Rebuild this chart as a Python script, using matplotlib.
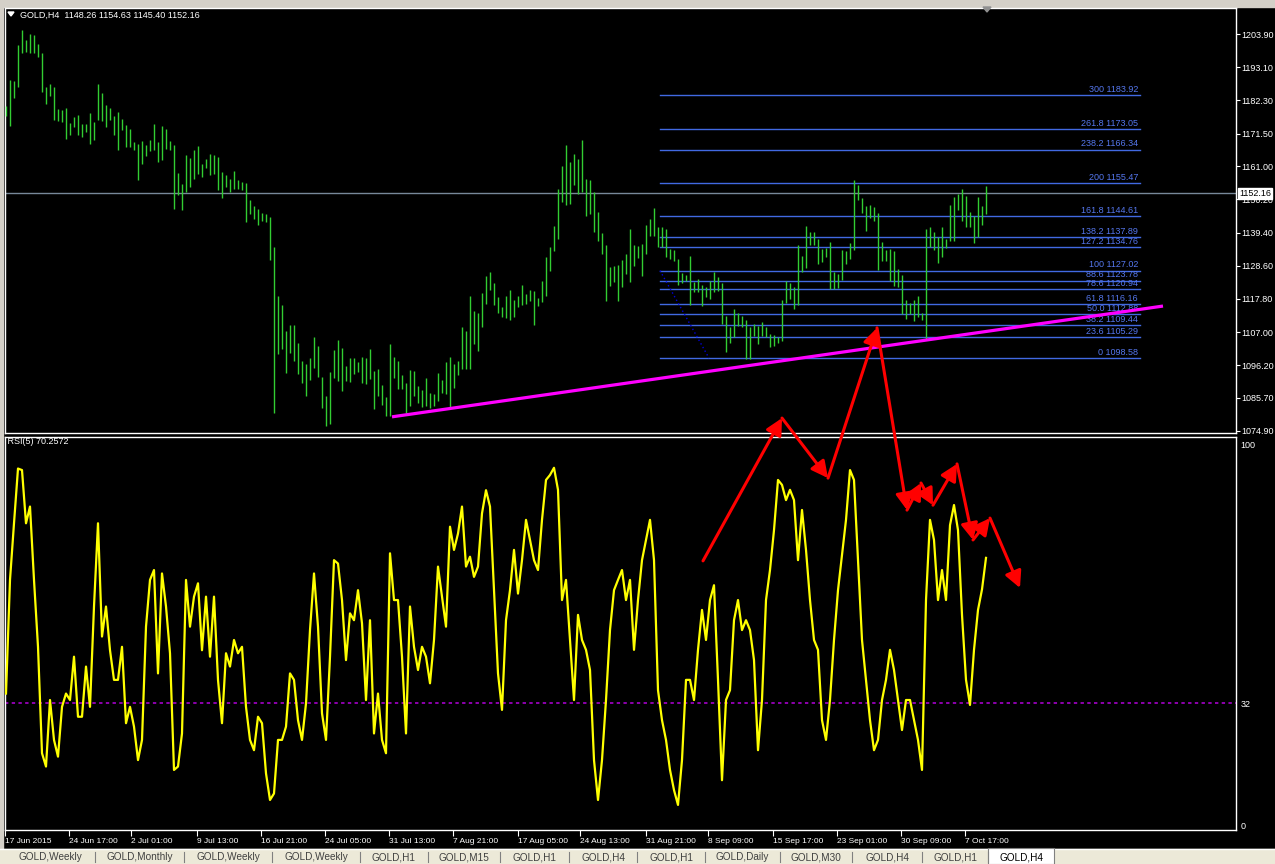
import matplotlib
matplotlib.use("Agg")
import matplotlib.pyplot as plt
from matplotlib.patches import Rectangle, Polygon, FancyArrowPatch
import numpy as np

# ---- data (one bar per 8h, index = bar number) ----
highs = [
    1180.4, 1188.9, 1188.6, 1200.3, 1205.2, 1202.0, 1203.9, 1203.6, 1200.7, 1197.6,
    1186.7, 1187.6, 1186.7, 1179.6, 1179.1, 1179.7, 1175.0, 1177.0, 1177.5, 1174.8,
    1174.8, 1178.1, 1175.2, 1187.6, 1184.8, 1180.7, 1179.7, 1177.3, 1178.6, 1176.4,
    1174.2, 1172.9, 1168.8, 1168.3, 1169.1, 1167.7, 1169.6, 1174.6, 1168.8, 1173.9,
    1172.9, 1169.2, 1167.7, 1158.8, 1155.1, 1164.5, 1163.7, 1166.1, 1167.4, 1161.8,
    1163.4, 1165.0, 1164.5, 1164.0, 1159.1, 1158.0, 1156.9, 1159.3, 1156.4, 1155.8,
    1155.5, 1149.9, 1147.9, 1147.1, 1145.7, 1145.3, 1144.4, 1134.7, 1118.9, 1116.0,
    1107.5, 1109.4, 1109.4, 1103.4, 1097.5, 1096.6, 1098.5, 1105.5, 1102.6, 1092.5,
    1086.3, 1094.2, 1101.2, 1104.5, 1102.0, 1096.1, 1098.5, 1098.6, 1097.4, 1099.0,
    1098.6, 1101.5, 1094.4, 1095.0, 1089.9, 1086.0, 1103.1, 1098.8, 1097.7, 1093.1,
    1090.4, 1094.7, 1094.4, 1089.5, 1088.1, 1092.0, 1087.4, 1087.0, 1093.7, 1091.4,
    1097.4, 1099.0, 1096.6, 1097.7, 1108.8, 1107.5, 1118.9, 1114.0, 1113.1, 1119.6,
    1125.4, 1126.5, 1123.0, 1118.3, 1115.3, 1118.9, 1120.7, 1117.5, 1118.7, 1122.5,
    1119.4, 1120.7, 1120.3, 1118.0, 1123.8, 1131.6, 1134.8, 1141.6, 1153.6, 1160.9,
    1167.7, 1162.3, 1165.0, 1163.4, 1169.6, 1156.7, 1156.3, 1152.4, 1146.2, 1139.2,
    1135.2, 1128.1, 1128.6, 1128.9, 1130.5, 1132.4, 1140.4, 1135.5, 1135.1, 1135.7,
    1141.7, 1143.8, 1147.4, 1141.3, 1141.1, 1140.6, 1134.1, 1133.7, 1130.8, 1126.3,
    1125.7, 1131.9, 1123.2, 1124.3, 1122.5, 1121.8, 1123.8, 1126.5, 1125.1, 1122.9,
    1112.4, 1108.8, 1114.5, 1113.4, 1112.4, 1111.0, 1108.6, 1109.6, 1109.1, 1110.2,
    1108.6, 1106.4, 1106.2, 1105.3, 1117.5, 1123.8, 1122.9, 1121.8, 1135.2, 1131.9,
    1141.4, 1139.5, 1139.5, 1137.3, 1134.1, 1134.4, 1136.2, 1126.5, 1125.9, 1133.7,
    1133.5, 1135.9, 1156.3, 1154.7, 1150.7, 1147.9, 1148.2, 1147.6, 1145.8, 1136.2,
    1133.7, 1134.1, 1133.3, 1127.5, 1125.7, 1117.5, 1116.4, 1117.5, 1118.9, 1113.4,
    1140.6, 1141.1, 1139.5, 1137.9, 1141.1, 1137.3, 1148.2, 1150.9, 1152.0, 1153.4,
    1151.1, 1146.0, 1144.9, 1150.9, 1147.9, 1154.6,
]
lows = [
    1177.2, 1173.9, 1183.0, 1186.7, 1197.6, 1198.2, 1197.6, 1197.6, 1196.5, 1185.1,
    1181.3, 1183.7, 1175.9, 1175.7, 1175.3, 1169.9, 1171.0, 1173.7, 1171.0, 1170.5,
    1172.1, 1168.3, 1169.4, 1175.9, 1175.7, 1173.7, 1175.9, 1171.0, 1166.1, 1172.6,
    1167.2, 1167.2, 1166.1, 1156.4, 1161.8, 1164.3, 1165.9, 1166.1, 1162.3, 1163.1,
    1166.6, 1166.1, 1147.1, 1151.5, 1146.6, 1152.6, 1154.2, 1156.9, 1158.5, 1157.4,
    1160.2, 1158.0, 1158.5, 1153.1, 1150.6, 1154.2, 1152.6, 1153.6, 1153.6, 1153.1,
    1142.8, 1145.3, 1143.9, 1141.9, 1143.3, 1142.8, 1130.5, 1080.9, 1099.9, 1101.5,
    1093.9, 1100.4, 1097.7, 1093.4, 1090.6, 1086.3, 1091.4, 1095.5, 1092.3, 1082.5,
    1076.6, 1077.1, 1092.0, 1091.2, 1087.9, 1091.2, 1090.9, 1093.3, 1094.2, 1090.6,
    1090.1, 1091.7, 1081.9, 1086.3, 1083.4, 1079.8, 1079.8, 1092.0, 1088.5, 1088.5,
    1080.9, 1083.0, 1086.3, 1084.1, 1082.7, 1083.0, 1082.5, 1083.0, 1084.7, 1087.4,
    1087.0, 1082.3, 1089.0, 1093.1, 1095.0, 1095.0, 1095.0, 1103.1, 1100.9, 1108.8,
    1116.2, 1120.7, 1115.9, 1113.4, 1111.8, 1111.6, 1111.0, 1111.8, 1115.1, 1115.9,
    1116.2, 1117.2, 1109.3, 1115.6, 1116.7, 1118.7, 1127.0, 1133.5, 1137.3, 1149.3,
    1148.2, 1148.7, 1154.7, 1151.8, 1152.5, 1144.9, 1145.5, 1139.5, 1136.8, 1132.4,
    1117.0, 1122.1, 1123.2, 1117.2, 1121.6, 1125.9, 1123.2, 1128.6, 1131.1, 1125.2,
    1132.4, 1138.2, 1138.4, 1134.8, 1134.8, 1131.6, 1130.8, 1130.3, 1122.5, 1122.9,
    1123.5, 1116.0, 1120.0, 1120.0, 1115.4, 1118.3, 1117.8, 1120.0, 1120.5, 1109.6,
    1100.7, 1103.4, 1105.5, 1109.1, 1108.6, 1098.4, 1098.4, 1105.8, 1103.1, 1105.8,
    1105.3, 1102.3, 1102.6, 1103.4, 1104.2, 1116.4, 1117.8, 1114.7, 1116.0, 1126.5,
    1127.9, 1135.5, 1135.2, 1129.2, 1129.7, 1131.6, 1121.0, 1121.0, 1121.3, 1124.0,
    1129.2, 1130.8, 1133.7, 1149.8, 1145.7, 1140.0, 1144.2, 1143.1, 1127.2, 1130.3,
    1130.3, 1123.8, 1122.1, 1121.8, 1112.9, 1111.3, 1112.9, 1110.5, 1112.0, 1110.9,
    1104.8, 1134.6, 1133.7, 1129.4, 1131.3, 1134.4, 1136.8, 1136.8, 1146.6, 1143.3,
    1141.1, 1141.1, 1135.9, 1138.0, 1141.7, 1145.4,
]
rsi_values = [
    34.6, 64.5, 79.4, 93.8, 93.4, 79.4, 83.8, 64.5, 46.9, 18.9,
    15.4, 32.9, 22.4, 18.0, 31.1, 34.6, 32.9, 44.3, 28.5, 28.5,
    41.7, 31.1, 57.5, 79.4, 49.6, 57.5, 46.0, 38.2, 38.2, 46.9,
    26.8, 31.1, 25.9, 17.1, 22.4, 52.2, 64.5, 67.1, 39.9, 66.2,
    57.5, 45.2, 14.5, 15.4, 24.1, 64.5, 52.2, 60.1, 63.6, 46.0,
    60.1, 44.3, 60.1, 38.2, 26.8, 45.2, 41.7, 48.7, 45.2, 46.9,
    31.1, 22.4, 19.7, 28.5, 26.8, 13.6, 6.6, 8.3, 22.4, 22.4,
    25.9, 39.9, 38.2, 27.6, 22.4, 32.0, 51.3, 66.2, 52.2, 29.4,
    22.4, 44.3, 69.7, 68.8, 59.2, 43.4, 55.7, 53.9, 61.8, 53.1,
    32.9, 53.9, 24.1, 34.6, 22.4, 18.9, 71.5, 59.2, 59.2, 44.3,
    24.1, 57.5, 46.9, 40.8, 46.9, 44.3, 37.3, 48.7, 68.0, 60.1,
    52.2, 78.5, 72.4, 76.7, 83.8, 68.0, 70.6, 65.3, 68.0, 82.0,
    88.1, 83.8, 61.8, 39.9,
    30.3, 53.9, 61.8, 72.4, 60.9, 69.7, 80.3, 75.0, 69.7, 67.1,
    80.3, 90.8, 92.1, 94.0, 88.2, 59.2, 64.5, 48.7, 32.9, 55.3,
    48.7, 46.1, 40.8, 17.1, 6.6, 17.1, 32.9, 51.3, 61.8, 64.5,
    67.1, 59.2, 64.5, 46.1, 59.2, 69.7, 75.0, 80.3, 69.7, 35.5,
    27.6, 22.4, 14.5, 9.2, 5.3, 17.1, 38.2, 38.2, 32.9, 46.1,
    56.6, 48.7, 59.2, 63.1, 38.2, 11.8, 32.9, 35.5, 53.9, 59.2,
    51.3, 53.9, 51.3, 43.4, 19.7, 32.9, 59.2, 67.1, 77.6, 90.8,
    89.5, 85.5, 88.2, 85.5, 69.7, 82.9, 72.4, 59.2, 48.7, 46.1,
    27.6, 22.4, 32.9, 48.7, 61.8, 71.1, 80.3, 93.4, 90.8, 69.7,
    48.7, 38.2, 27.6, 19.7, 22.4, 32.9, 38.2, 46.1, 40.8, 32.9,
    25.0, 32.9, 32.9, 27.6, 22.4, 14.5, 59.2, 80.3, 75.0, 59.2,
    67.1, 59.2, 78.9, 84.2, 77.6, 55.3, 38.2, 31.6, 46.1, 56.6,
    62.0, 70.3,
]

price_ticks = [1203.90, 1193.10, 1182.30, 1171.50, 1161.00, 1150.20, 1139.40,
               1128.60, 1117.80, 1107.00, 1096.20, 1085.70, 1074.90]
last_price = 1152.16
ohlc_header = "GOLD,H4  1148.26 1154.63 1145.40 1152.16"

fib_levels = ["300", "261.8", "238.2", "200", "161.8", "138.2", "127.2", "100",
              "88.6", "78.6", "61.8", "50.0", "38.2", "23.6", "0"]
fib_prices = [1183.92, 1173.05, 1166.34, 1155.47, 1144.61, 1137.89, 1134.76, 1127.02,
              1123.78, 1120.94, 1116.16, 1112.88, 1109.44, 1105.29, 1098.58]
fib_span = (163.5, 283.5)          # bar positions where the fib lines start / end
fib_anchor = [(163.5, 1127.02), (175.75, 1098.58)]
trend_line = [(96.5, 1079.5), (289.25, 1115.5)]

# hand drawn red arrows (bar position, price scale of the upper panel)
arrow_path = [(174.25, 1032.7), (194.0, 1079.1), (205.5, 1059.6), (217.75, 1108.4),
              (225.25, 1049.2), (228.75, 1058.0), (231.75, 1050.8), (237.75, 1064.2),
              (241.75, 1039.5), (246.0, 1046.6), (253.5, 1023.9)]

date_pos = [-0.25, 15.75, 31.25, 47.75, 63.75, 79.75, 95.75, 111.75, 128.0, 143.5,
            160.0, 175.5, 191.75, 207.75, 223.75, 239.75]
date_labels = ["17 Jun 2015", "24 Jun 17:00", "2 Jul 01:00", "9 Jul 13:00",
               "16 Jul 21:00", "24 Jul 05:00", "31 Jul 13:00", "7 Aug 21:00",
               "17 Aug 05:00", "24 Aug 13:00", "31 Aug 21:00", "8 Sep 09:00",
               "15 Sep 17:00", "23 Sep 01:00", "30 Sep 09:00", "7 Oct 17:00"]
rsi_label = "RSI(5) 70.2572"
rsi_level = 32

tab_names = ["GOLD,Weekly", "GOLD,Monthly", "GOLD,Weekly", "GOLD,Weekly", "GOLD,H1",
             "GOLD,M15", "GOLD,H1", "GOLD,H4", "GOLD,H1", "GOLD,Daily", "GOLD,M30",
             "GOLD,H4", "GOLD,H1", "GOLD,H4"]

# ---- layout ----
W, H = 1275, 864
plt.rcParams["font.family"] = ["Liberation Sans", "DejaVu Sans"]
fig = plt.figure(figsize=(W / 100, H / 100), dpi=100, facecolor="black")


def box(x0, y0, x1, y1):
    return [x0 / W, 1 - y1 / H, (x1 - x0) / W, (y1 - y0) / H]


BAR_GREEN = "#32cd32"
FIB_BLUE = "#4169e1"
FONT = 6.5

ax = fig.add_axes(box(5, 8, 1236, 433), facecolor="black")
ax_r = fig.add_axes(box(5, 437, 1236, 830), facecolor="black")

xmin, xmax = -0.25, 307.5
for a in (ax, ax_r):
    a.set_xlim(xmin, xmax)
    for s in a.spines.values():
        s.set_color("white")
        s.set_linewidth(1.0)
    a.yaxis.tick_right()
    a.tick_params(axis="y", colors="white", labelsize=FONT, length=3, width=0.8, pad=1)

idx = np.arange(len(highs))
ax.set_ylim(1074.25, 1212.35)
ax.vlines(idx, lows, highs, color=BAR_GREEN, linewidth=1.0, zorder=3)
ax.axhline(last_price, color="#778899", linewidth=1.0, zorder=2)

for lvl, p in zip(fib_levels, fib_prices):
    ax.plot(fib_span, [p, p], color=FIB_BLUE, linewidth=1.0, zorder=2)
    ax.annotate(f"{lvl} {p:.2f}", xy=(fib_span[1] - 0.5, p), xytext=(0, 0.8),
                textcoords="offset points", ha="right", va="bottom",
                color="#5577ee", fontsize=FONT, zorder=4)
ax.plot(*zip(*fib_anchor), color="#0000dd", linewidth=1.0, linestyle=(0, (1, 2)), zorder=2)
ax.plot(*zip(*trend_line), color="#ff00ff", linewidth=2.3, zorder=5, solid_capstyle="butt")

ax.set_yticks(price_ticks)
ax.set_yticklabels([f"{t:.2f}" for t in price_ticks])
ax.set_xticks([])
ax.annotate(f"{last_price:.2f}", xy=(1.0, last_price), xycoords=("axes fraction", "data"),
            xytext=(2.2, 0), textcoords="offset points", ha="left", va="center",
            fontsize=FONT, color="black", zorder=10, annotation_clip=False,
            bbox=dict(boxstyle="square,pad=0.12", fc="white", ec="white"))

# RSI panel
ax_r.set_ylim(-1.3, 102.1)
ax_r.plot(idx, rsi_values, color="#ffff00", linewidth=1.6, zorder=3)
ax_r.axhline(rsi_level, color="#b400dc", linewidth=1.1, linestyle=(0, (2.2, 2.2)),
             zorder=2, snap=True)
ax_r.set_yticks([100, rsi_level, 0])
ax_r.set_yticklabels(["100", str(rsi_level), "0"])
ax_r.tick_params(axis="y", length=0, pad=3)
ax_r.set_xticks(date_pos)
ax_r.set_xticklabels(date_labels)
ax_r.tick_params(axis="x", colors="white", labelsize=6.0, length=4, width=0.8, pad=1.5)
for lbl in ax_r.get_xticklabels():
    lbl.set_ha("left")
ax_r.text(0.0, 1.0, " " + rsi_label, transform=ax_r.transAxes, ha="left", va="top",
          color="white", fontsize=FONT)

# red hand drawn arrows, crossing both panels: added to the figure so that
# neither panel clips them
for (x0, y0), (x1, y1) in zip(arrow_path[:-1], arrow_path[1:]):
    arr = FancyArrowPatch((x0, y0), (x1, y1), transform=ax.transData,
                          arrowstyle="-|>,head_length=4.5,head_width=2.3",
                          color="#ff0000", lw=2.2, shrinkA=0, shrinkB=0,
                          mutation_scale=2.2, zorder=20)
    fig.add_artist(arr)

# window chrome (overlay in pixel units)
ui = fig.add_axes([0, 0, 1, 1], facecolor="none", zorder=-1)
ui.set_xlim(0, W)
ui.set_ylim(H, 0)
ui.axis("off")
ui.add_patch(Rectangle((0, 0), W, 7, color="#d4d0c8"))
ui.add_patch(Rectangle((0, 0), 3, 850, color="#d4d0c8"))
ui.add_patch(Rectangle((0, 849), W, 15, color="#ece9d8"))
ui.plot([0, W], [849, 849], color="white", lw=1)

ui2 = fig.add_axes([0, 0, 1, 1], facecolor="none", zorder=30)
ui2.set_xlim(0, W)
ui2.set_ylim(H, 0)
ui2.axis("off")
ui2.add_patch(Polygon([[8, 12], [14, 12], [11, 16]], closed=True, color="white"))
ui2.text(20, 15, ohlc_header, color="white", fontsize=FONT, ha="left", va="center")
ui2.add_patch(Polygon([[983, 7], [991, 7], [987, 12]], closed=True, color="#909090"))

tab_edges = [6, 95, 184, 272, 360, 428, 500, 569, 637, 705, 780, 852, 922, 988, 1054]
for i, name in enumerate(tab_names):
    x0, x1 = tab_edges[i], tab_edges[i + 1]
    if i == len(tab_names) - 1:
        ui2.add_patch(Rectangle((x0, 848), x1 - x0, 16, fc="white", ec="#808080", lw=0.8))
        col = "black"
    else:
        ui2.plot([x1, x1], [852, 862], color="#808080", lw=0.8)
        col = "#404040"
    ui2.text((x0 + x1) / 2, 857.5, name, ha="center", va="center", fontsize=7.2, color=col)

fig.savefig("out.png", dpi=100, facecolor="black")
